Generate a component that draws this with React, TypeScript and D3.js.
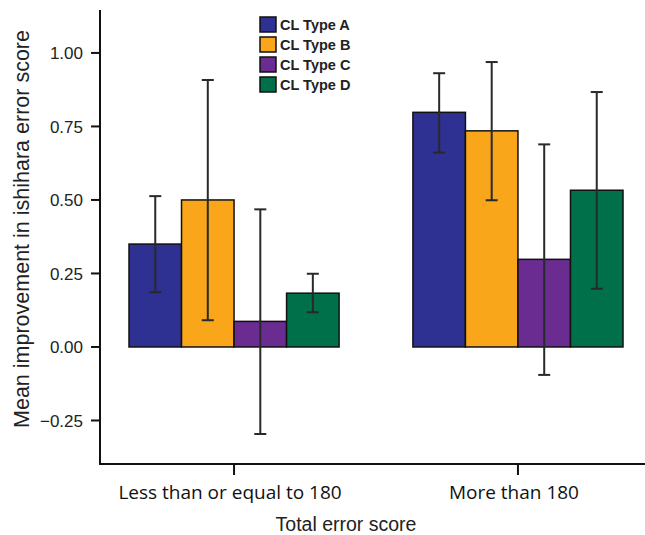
import React, { useEffect, useRef } from 'react';
import * as d3 from 'd3';

const groups = ['Less than or equal to 180', 'More than 180'];
const series = ['CL Type A', 'CL Type B', 'CL Type C', 'CL Type D'];
const colors = ['#2e3192', '#f9a61a', '#6a2c91', '#00704a'];

// mean values per group, in series order
const means = [
  [0.35, 0.5, 0.087, 0.183],
  [0.798, 0.735, 0.298, 0.533],
];
const errLow = [
  [0.186, 0.091, -0.296, 0.118],
  [0.661, 0.499, -0.095, 0.198],
];
const errHigh = [
  [0.513, 0.908, 0.468, 0.249],
  [0.931, 0.969, 0.689, 0.867],
];
const yTicks = [-0.25, 0, 0.25, 0.5, 0.75, 1.0];

const App = () => {
  const svgRef = useRef<SVGSVGElement>(null);

  useEffect(() => {
    const width = 645;
    const height = 535;
    const axisX = 100;
    const axisTop = 10;
    const axisBottom = 464;

    const svg = d3.select(svgRef.current);
    svg.selectAll('*').remove();
    svg.attr('viewBox', [0, 0, width, height]);

    svg.append('rect').attr('width', width).attr('height', height).attr('fill', '#fff');

    const y = d3.scaleLinear()
      .domain([-0.398, 1.146])
      .range([axisBottom, axisTop]);

    const x0 = d3.scaleBand()
      .domain(groups)
      .range([129, 623])
      .paddingInner(0.26)
      .paddingOuter(0);

    const x1 = d3.scaleBand()
      .domain(series)
      .range([0, x0.bandwidth()]);

    // Bars
    const rows = groups.flatMap((g, gi) => series.map((s, si) => ({
      g, s, si,
      v: means[gi][si],
      lo: errLow[gi][si],
      hi: errHigh[gi][si],
    })));

    svg.append('g')
      .selectAll('rect')
      .data(rows)
      .join('rect')
      .attr('x', d => x0(d.g) + x1(d.s))
      .attr('y', d => y(Math.max(0, d.v)))
      .attr('width', x1.bandwidth())
      .attr('height', d => Math.abs(y(d.v) - y(0)))
      .attr('fill', d => colors[d.si])
      .attr('stroke', '#111')
      .attr('stroke-width', 1.5);

    // Error bars
    const eb = svg.append('g')
      .attr('stroke', '#262a2a')
      .attr('stroke-width', 2)
      .selectAll('g')
      .data(rows)
      .join('g')
      .attr('transform', d => `translate(${x0(d.g) + x1(d.s) + x1.bandwidth() / 2},0)`);

    eb.append('line')
      .attr('y1', d => y(d.lo))
      .attr('y2', d => y(d.hi));
    eb.append('line')
      .attr('x1', -6).attr('x2', 6)
      .attr('y1', d => y(d.lo)).attr('y2', d => y(d.lo));
    eb.append('line')
      .attr('x1', -6).attr('x2', 6)
      .attr('y1', d => y(d.hi)).attr('y2', d => y(d.hi));

    // Y axis
    const yAxis = svg.append('g')
      .attr('transform', `translate(${axisX},0)`);
    yAxis.append('line')
      .attr('y1', axisTop).attr('y2', axisBottom)
      .attr('stroke', '#111').attr('stroke-width', 2);
    const yt = yAxis.selectAll('g.tick')
      .data(yTicks)
      .join('g')
      .attr('class', 'tick')
      .attr('transform', d => `translate(0,${y(d)})`);
    yt.append('line').attr('x1', -9).attr('x2', 0)
      .attr('stroke', '#111').attr('stroke-width', 2);
    yt.append('text')
      .attr('x', -17)
      .attr('dy', '0.36em')
      .attr('text-anchor', 'end')
      .attr('font-family', 'Liberation Sans, Arial, sans-serif')
      .attr('font-size', 17)
      .attr('fill', '#222')
      .text(d => d3.format('.2f')(d));

    svg.append('text')
      .attr('transform', `translate(29,229) rotate(-90)`)
      .attr('text-anchor', 'middle')
      .attr('font-family', 'Liberation Sans, Arial, sans-serif')
      .attr('font-size', 21.5)
      .attr('fill', '#222')
      .text('Mean improvement in ishihara error score');

    // X axis
    const xAxis = svg.append('g');
    xAxis.append('line')
      .attr('x1', axisX - 1).attr('x2', 645)
      .attr('y1', axisBottom).attr('y2', axisBottom)
      .attr('stroke', '#111').attr('stroke-width', 2);
    const xt = xAxis.selectAll('g.tick')
      .data(groups)
      .join('g')
      .attr('class', 'tick')
      .attr('transform', d => `translate(${x0(d) + x0.bandwidth() / 2},${axisBottom})`);
    xt.append('line').attr('y1', 0).attr('y2', 11)
      .attr('stroke', '#111').attr('stroke-width', 2);
    xt.append('text')
      .attr('x', -4)
      .attr('y', 35)
      .attr('text-anchor', 'middle')
      .attr('font-family', 'Open Sans, sans-serif')
      .attr('font-size', 19)
      .attr('fill', '#111')
      .text(d => d);

    svg.append('text')
      .attr('x', 346)
      .attr('y', 531)
      .attr('text-anchor', 'middle')
      .attr('font-family', 'Liberation Sans, Arial, sans-serif')
      .attr('font-size', 19.5)
      .attr('fill', '#222')
      .text('Total error score');

    // Legend
    const legend = svg.append('g')
      .selectAll('g')
      .data(series)
      .join('g')
      .attr('transform', (d, i) => `translate(260,${17 + i * 20})`);
    legend.append('rect')
      .attr('width', 16).attr('height', 15)
      .attr('fill', (d, i) => colors[i])
      .attr('stroke', '#111').attr('stroke-width', 1.5);
    legend.append('text')
      .attr('x', 20)
      .attr('y', 13)
      .attr('font-family', 'Liberation Sans, Arial, sans-serif')
      .attr('font-weight', 'bold')
      .attr('font-size', 14.5)
      .attr('fill', '#222')
      .text(d => d);
  }, []);

  return (
    <svg ref={svgRef} width={645} height={535}
      style={{ position: 'absolute', left: 0, top: 0 }} />
  );
};

export default App;
